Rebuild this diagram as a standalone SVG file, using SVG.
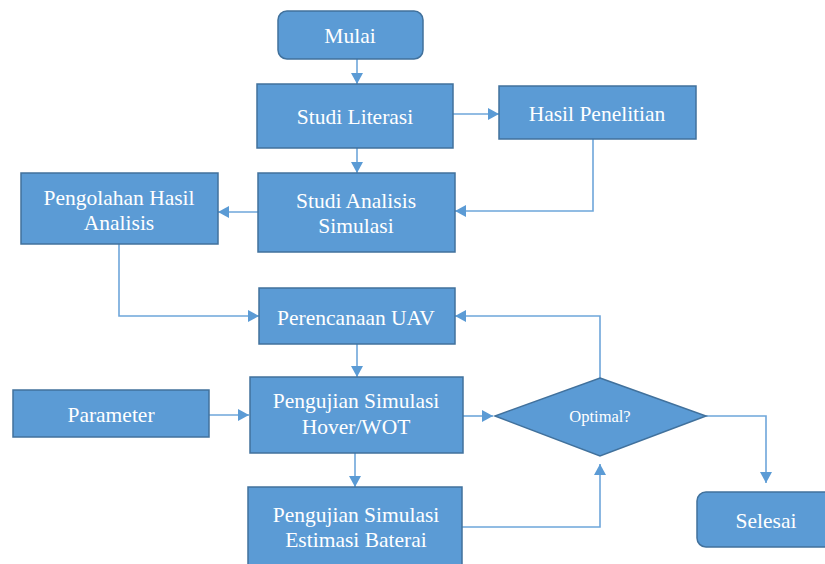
<svg xmlns="http://www.w3.org/2000/svg" width="825" height="564" viewBox="0 0 825 564">
<style>
.n{fill:#5B9BD5;stroke:#41719C;stroke-width:1.5}
.t{font-family:"Liberation Serif","Times New Roman",serif;font-size:21.5px;fill:#ffffff;text-anchor:middle}
.s{font-size:16.5px}
.c{fill:none;stroke:#6EA6DA;stroke-width:1.6}
</style>
<defs>
<marker id="a" markerUnits="userSpaceOnUse" markerWidth="12" markerHeight="12" refX="11" refY="6" orient="auto">
<path d="M0,0 L11,6 L0,12 Z" fill="#5B9BD5"/>
</marker>
</defs>
<rect width="825" height="564" fill="#ffffff"/>
<g id="connectors">
<path class="c" d="M357,59 V84" marker-end="url(#a)"/>
<path class="c" d="M453,114 H499" marker-end="url(#a)"/>
<path class="c" d="M357,148 V173" marker-end="url(#a)"/>
<path class="c" d="M593,139 V211 H455" marker-end="url(#a)"/>
<path class="c" d="M258,212 H218" marker-end="url(#a)"/>
<path class="c" d="M119,244 V316 H259" marker-end="url(#a)"/>
<path class="c" d="M357,344 V377" marker-end="url(#a)"/>
<path class="c" d="M209,415 H249" marker-end="url(#a)"/>
<path class="c" d="M463,416 H493" marker-end="url(#a)"/>
<path class="c" d="M355,453 V487" marker-end="url(#a)"/>
<path class="c" d="M462,527 H600 V464" marker-end="url(#a)"/>
<path class="c" d="M600,378 V316 H455" marker-end="url(#a)"/>
<path class="c" d="M706,416 H766 V483" marker-end="url(#a)"/>
</g>
<g id="mulai"><rect class="n" x="278" y="11" width="145" height="48" rx="9"/><text class="t" x="350" y="43">Mulai</text></g>
<g id="studi-literasi"><rect class="n" x="257" y="84" width="196" height="64"/><text class="t" x="355" y="124">Studi Literasi</text></g>
<g id="hasil-penelitian"><rect class="n" x="499" y="86" width="197" height="53"/><text class="t" x="597" y="121">Hasil Penelitian</text></g>
<g id="studi-analisis"><rect class="n" x="258" y="173" width="197" height="79"/><text class="t" x="356" y="208">Studi Analisis</text><text class="t" x="356" y="233">Simulasi</text></g>
<g id="pengolahan"><rect class="n" x="21" y="173" width="197" height="71"/><text class="t" x="119" y="205">Pengolahan Hasil</text><text class="t" x="119" y="230">Analisis</text></g>
<g id="perencanaan"><rect class="n" x="259" y="288" width="196" height="56"/><text class="t" x="356" y="325">Perencanaan UAV</text></g>
<g id="parameter"><rect class="n" x="13" y="390" width="196" height="47"/><text class="t" x="111" y="422">Parameter</text></g>
<g id="hover"><rect class="n" x="250" y="377" width="213" height="76"/><text class="t" x="356" y="408">Pengujian Simulasi</text><text class="t" x="356" y="434">Hover/WOT</text></g>
<g id="optimal"><polygon class="n" points="600,378 706,416 600,456 495,416"/><text class="t s" x="600" y="422">Optimal?</text></g>
<g id="estimasi"><rect class="n" x="248" y="487" width="214" height="86"/><text class="t" x="356" y="522">Pengujian Simulasi</text><text class="t" x="356" y="547">Estimasi Baterai</text></g>
<g id="selesai"><rect class="n" x="697" y="492" width="138" height="55" rx="9"/><text class="t" x="766" y="528">Selesai</text></g>
</svg>
